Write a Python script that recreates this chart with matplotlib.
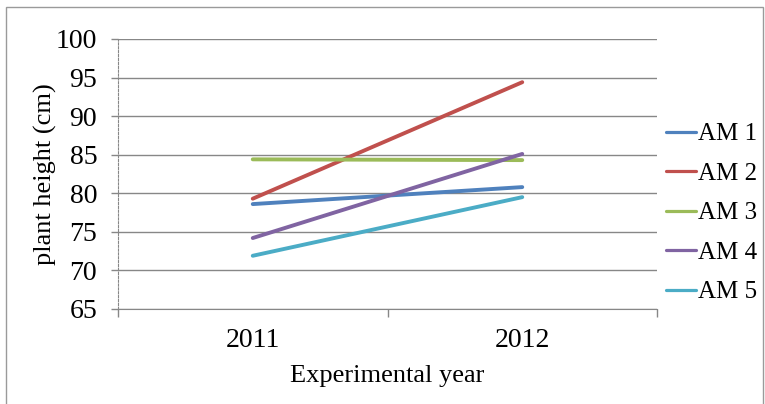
import matplotlib.pyplot as plt
from matplotlib.patches import Rectangle

plt.rcParams['font.family'] = ['Liberation Serif', 'DejaVu Serif']

years = ['2011', '2012']
series_names = ['AM 1', 'AM 2', 'AM 3', 'AM 4', 'AM 5']
am1 = [78.6, 80.8]
am2 = [79.3, 94.4]
am3 = [84.4, 84.3]
am4 = [74.2, 85.1]
am5 = [71.9, 79.5]
series_values = [am1, am2, am3, am4, am5]
colors = ['#4F81BD', '#C0504D', '#9BBB59', '#8064A2', '#4BACC6']

fig = plt.figure(figsize=(7.65, 4.04), dpi=100)
W, H = 765, 404
# plot area in pixel coords
left, right, top, bottom = 118, 657, 39, 309
ax = fig.add_axes([left / W, 1 - bottom / H, (right - left) / W, (bottom - top) / H])

xs = list(range(1, len(years) + 1))
for name, vals, c in zip(series_names, series_values, colors):
    ax.plot(xs, vals, color=c, lw=2.8, label=name, solid_capstyle='round')

ax.set_xlim(0.5, len(years) + 0.5)
ax.set_ylim(65, 100)
ax.set_yticks(range(65, 101, 5))
ax.yaxis.grid(True, color='#878787', lw=1.0)
ax.set_axisbelow(True)

# category ticks sit between the categories
ax.set_xticks(xs)
ax.set_xticklabels(years, fontsize=20)
ax.set_xticks([0.5 + i for i in range(len(years) + 1)], minor=True)
ax.tick_params(axis='x', which='major', length=0, pad=14)
ax.tick_params(axis='x', which='minor', length=6, color='#878787', width=1)
ax.tick_params(axis='y', length=5, color='#878787', width=1, labelsize=20, pad=10)

for s in ['top', 'right']:
    ax.spines[s].set_visible(False)
ax.spines['bottom'].set_color('#878787')
ax.spines['left'].set_color('#878787')
ax.spines['left'].set_linestyle((0, (2, 1.5)))

ax.set_ylabel('plant height (cm)', fontsize=19, labelpad=-1)
ax.set_xlabel('Experimental year', fontsize=19, labelpad=8)

leg = fig.legend(*ax.get_legend_handles_labels(), loc='center left',
                 bbox_to_anchor=(666 / W, 1 - 213 / H), frameon=False,
                 fontsize=18, handlelength=1.2, handletextpad=0.1,
                 labelspacing=0.68, borderpad=0, borderaxespad=0)
for ln in leg.get_lines():
    ln.set_linewidth(2.3)

# light outer frame
fig.patches.append(Rectangle((6 / W, -0.01), (763 - 6) / W, 1 - 7 / H + 0.01,
                             transform=fig.transFigure, fill=False,
                             edgecolor='#9a9a9a', lw=1.0))

fig.savefig('out.png', dpi=100)
